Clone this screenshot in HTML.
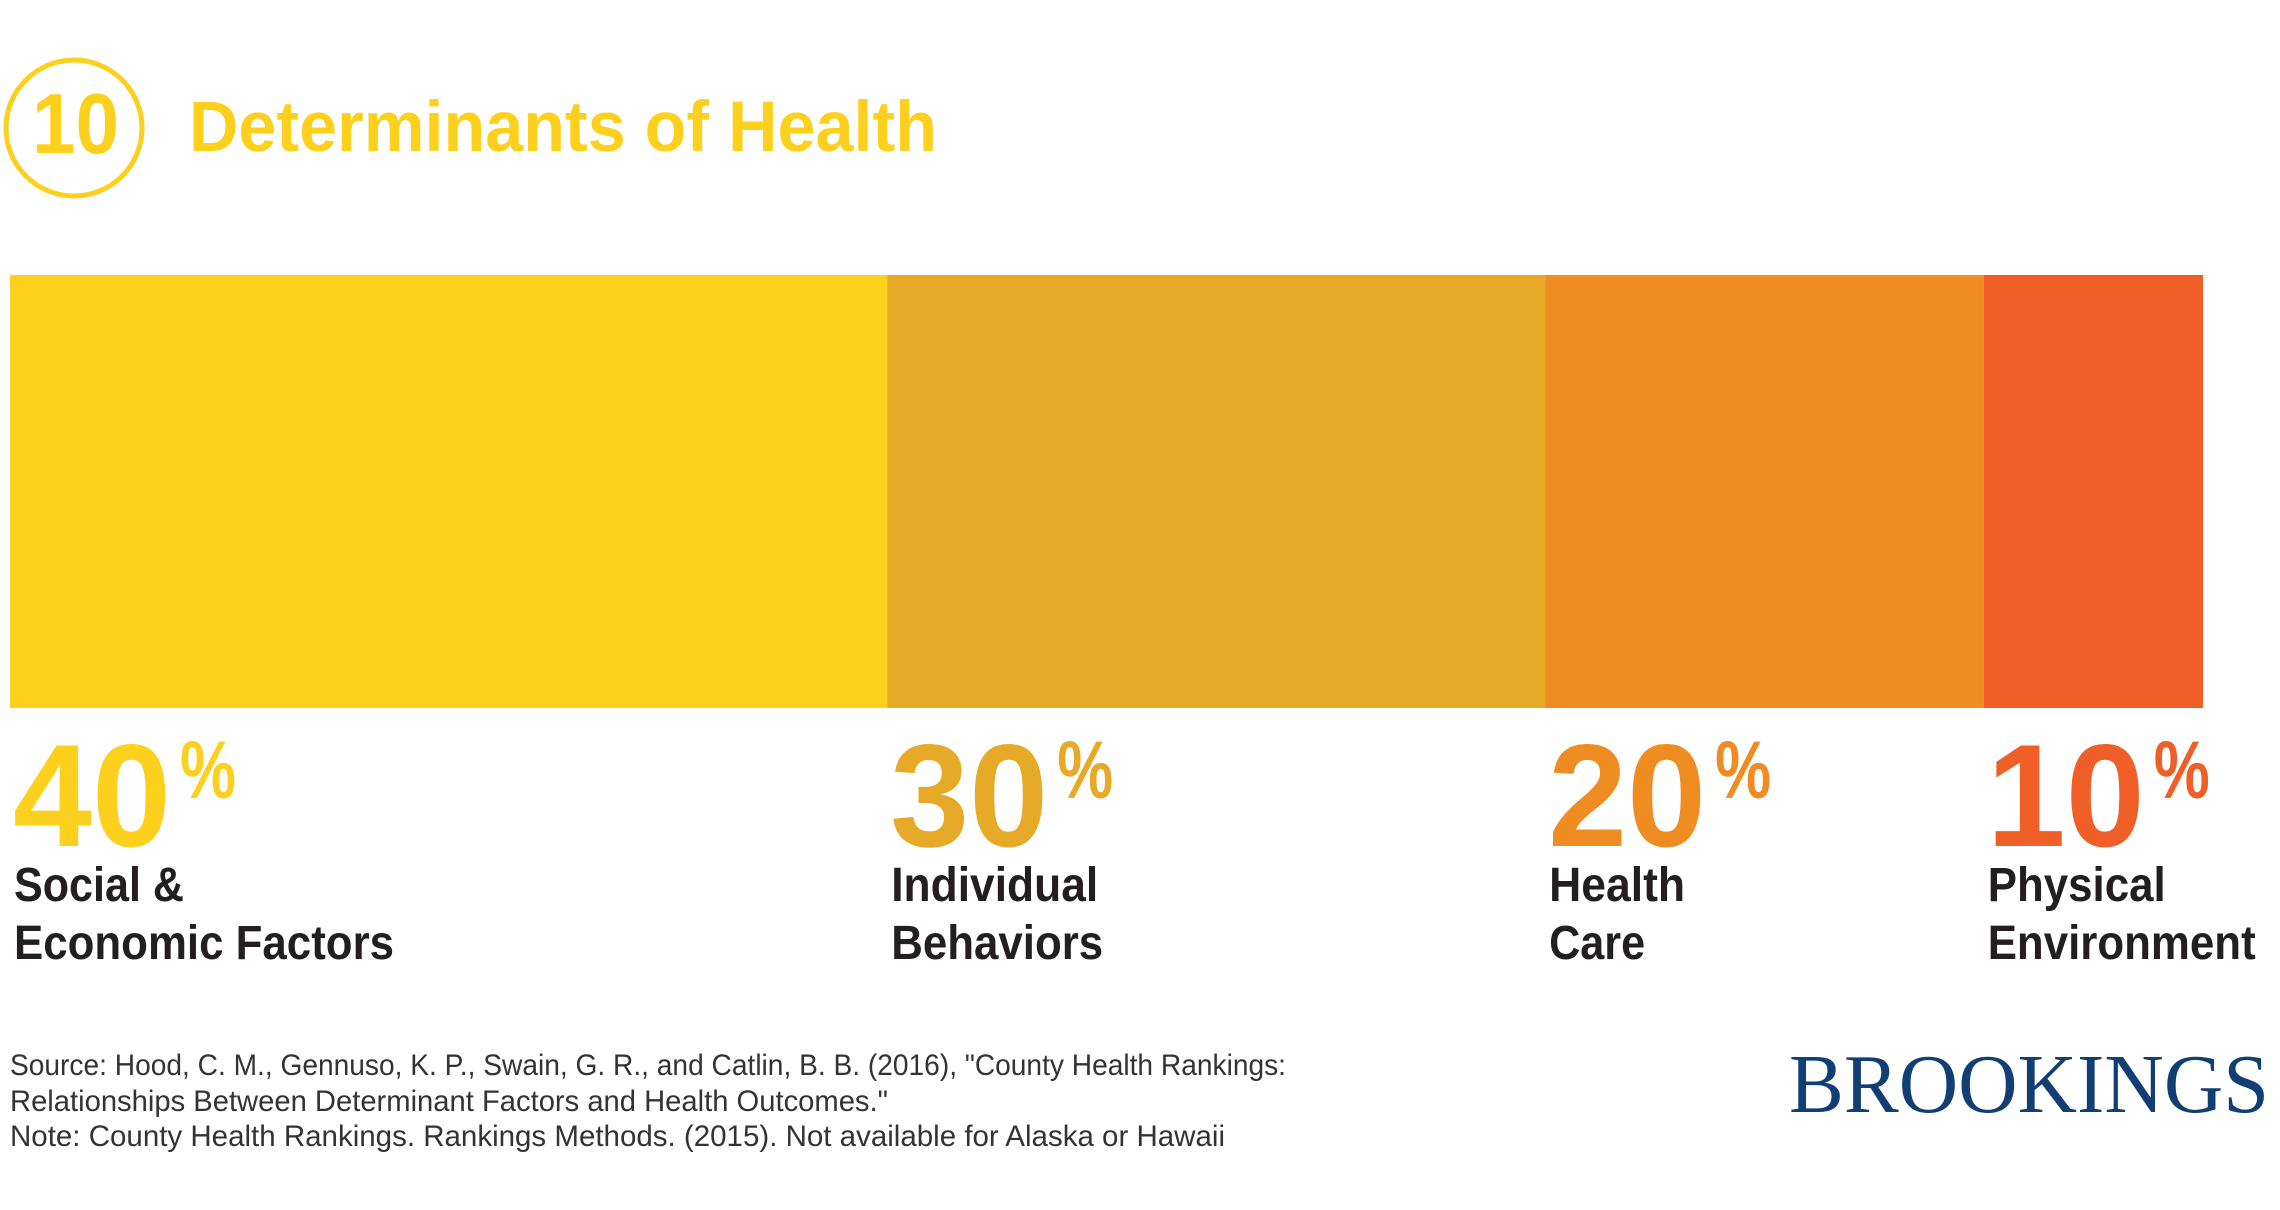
<!DOCTYPE html>
<html><head><meta charset="utf-8"><style>
html,body{margin:0;padding:0;background:#fff;}
svg{display:block;}
text{font-family:"Liberation Sans",sans-serif;}
</style></head><body>
<svg id="chart" width="2280" height="1210" viewBox="0 0 2280 1210" xmlns="http://www.w3.org/2000/svg">
  <circle cx="74" cy="128" r="68" fill="none" stroke="#FDD01D" stroke-width="5"/>
  <text x="32" y="153" font-size="85" font-weight="bold" fill="#FDD01D" textLength="87" lengthAdjust="spacingAndGlyphs">10</text>
  <text x="189" y="151" font-size="71" font-weight="bold" fill="#FDD01D" textLength="748" lengthAdjust="spacingAndGlyphs">Determinants of Health</text>
  <g id="bars"></g>
  <g id="labels"></g>
  <text x="10" y="1075" font-size="30" fill="#333" textLength="1276" lengthAdjust="spacingAndGlyphs">Source: Hood, C. M., Gennuso, K. P., Swain, G. R., and Catlin, B. B. (2016), "County Health Rankings:</text>
  <text x="10" y="1111" font-size="30" fill="#333" textLength="878" lengthAdjust="spacingAndGlyphs">Relationships Between Determinant Factors and Health Outcomes."</text>
  <text x="10" y="1146" font-size="30" fill="#333" textLength="1215" lengthAdjust="spacingAndGlyphs">Note:  County Health Rankings. Rankings Methods. (2015). Not available for Alaska or Hawaii</text>
  <text x="1789" y="1112" font-family="Liberation Serif, serif" font-size="84" fill="#123F73" textLength="480" lengthAdjust="spacingAndGlyphs" style="font-family:'Liberation Serif',serif">BROOKINGS</text>
</svg>
<script>
const categories = ["Social & Economic Factors","Individual Behaviors","Health Care","Physical Environment"];
const values = [40, 30, 20, 10];
const labelLine1 = ["Social &","Individual","Health","Physical"];
const labelLine2 = ["Economic Factors","Behaviors","Care","Environment"];
const colors = ["#FDD01D","#E6AA28","#EF8C22","#EF5F27"];
const NS = "http://www.w3.org/2000/svg";
const x0 = 10, xW = 2193, barTop = 275, barBottom = 708;
const total = values.reduce((a,b)=>a+b,0);
function xScale(v){ return x0 + v/total*xW; }
const bars = document.getElementById('bars');
const labels = document.getElementById('labels');
const w1 = [170,207,136,178], w2 = [380,212,96,268];
let cum = 0;
values.forEach((v,i)=>{
  const xs = xScale(cum), xe = xScale(cum+v);
  const r = document.createElementNS(NS,'rect');
  r.setAttribute('x', xs); r.setAttribute('y', barTop);
  r.setAttribute('width', xe-xs); r.setAttribute('height', barBottom-barTop);
  r.setAttribute('fill', colors[i]);
  
  
  bars.appendChild(r);
  const num = document.createElementNS(NS,'text');
  num.setAttribute('x', xs+3); num.setAttribute('y', 846);
  num.setAttribute('font-size', 146); num.setAttribute('font-weight','bold');
  num.setAttribute('fill', colors[i]);
  num.setAttribute('textLength', 158); num.setAttribute('lengthAdjust','spacingAndGlyphs');
  num.textContent = String(v);
  
  
  labels.appendChild(num);
  const pc = document.createElementNS(NS,'text');
  pc.setAttribute('x', xs+170); pc.setAttribute('y', 798);
  pc.setAttribute('font-size', 82); pc.setAttribute('font-weight','bold');
  pc.setAttribute('fill', colors[i]);
  pc.setAttribute('textLength', 56); pc.setAttribute('lengthAdjust','spacingAndGlyphs');
  pc.textContent = "%";
  
  
  labels.appendChild(pc);
  [[labelLine1[i],901,w1[i]],[labelLine2[i],959,w2[i]]].forEach(([t,y,w])=>{
    const l = document.createElementNS(NS,'text');
    l.setAttribute('x', xs+4); l.setAttribute('y', y);
    l.setAttribute('font-size', 48); l.setAttribute('font-weight','bold');
    l.setAttribute('fill', '#231F20');
    l.setAttribute('textLength', w); l.setAttribute('lengthAdjust','spacingAndGlyphs');
    l.textContent = t;
    
    
    labels.appendChild(l);
  });
  cum += v;
});
</script>
</body></html>
